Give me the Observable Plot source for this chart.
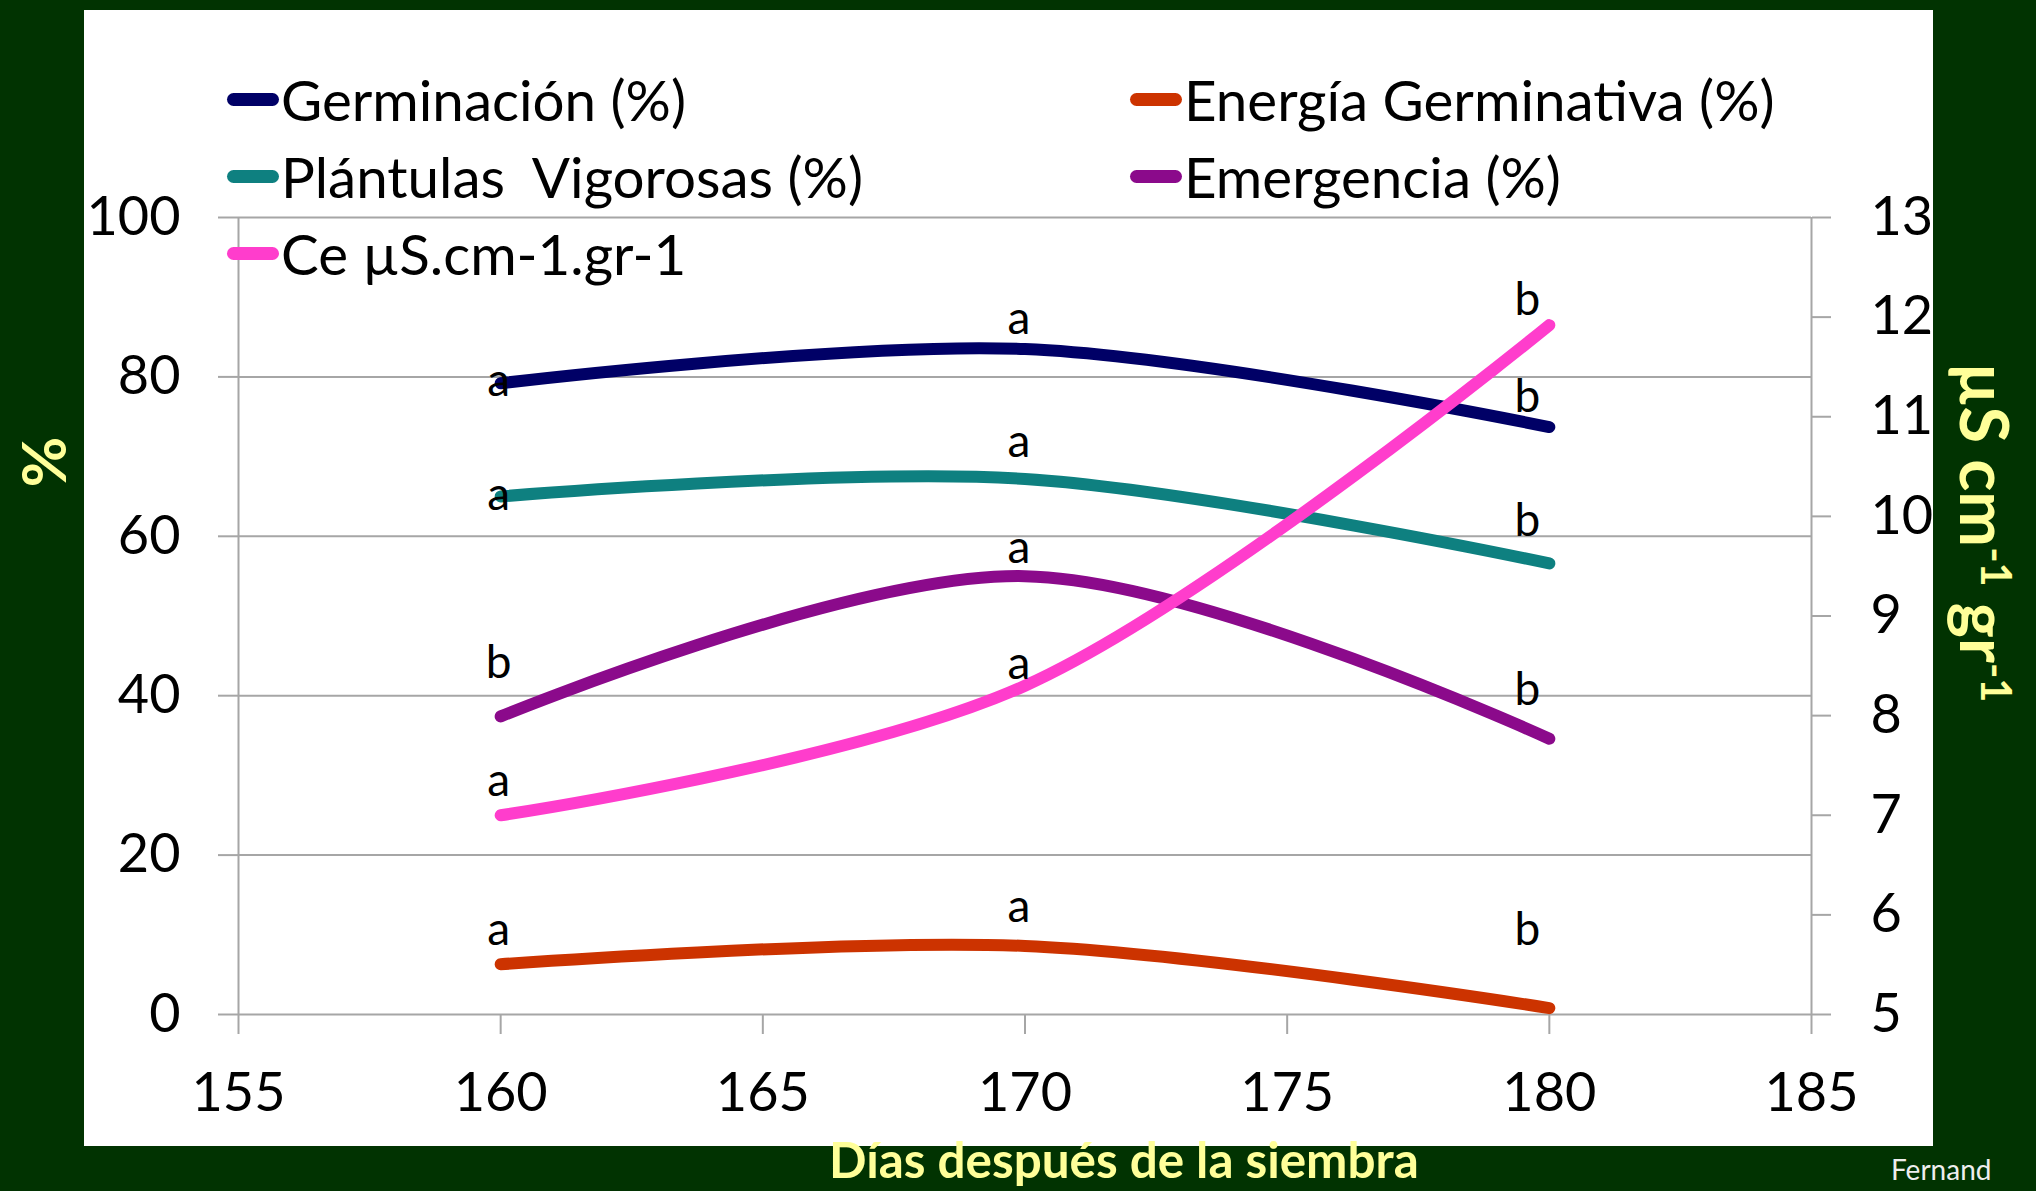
<!DOCTYPE html>
<html>
<head>
<meta charset="utf-8">
<script src="https://cdn.jsdelivr.net/npm/d3@7"></script>
<script src="https://cdn.jsdelivr.net/npm/@observablehq/plot@0.6"></script>
<style>
  html, body { margin: 0; padding: 0; background: #013301; }
  #wrap { position: relative; width: 2036px; height: 1191px; overflow: hidden; background: #013301; }
  #panel { position: absolute; left: 84px; top: 10px; width: 1849px; height: 1136px; background: #ffffff; }
  #chart { position: absolute; left: 0; top: 0; }
  .cal { font-family: Lato, "Open Sans", sans-serif; }
  .leg { position: absolute; display: flex; align-items: center; color: #000; white-space: pre; line-height: 1; }
  .sw { display: inline-block; width: 52px; height: 13px; border-radius: 7px; margin-right: 2px; }
  .ttl { position: absolute; font-weight: bold; color: #ffff99; white-space: nowrap; line-height: 1; }
  .ttl sup { font-size: 0.62em; position: relative; top: -0.5em; vertical-align: baseline; line-height: 0; }
</style>
</head>
<body>
<div id="wrap">
  <div id="panel"></div>
  <div id="chart"></div>
  <div id="legend"></div>
  <div class="ttl cal" id="ttlLeft" style="font-size:62px;">%</div>
  <div class="ttl cal" id="ttlRight">µS cm<sup>-1</sup> gr<sup>-1</sup></div>
  <div class="ttl cal" id="ttlBottom">Días después de la siembra</div>
  <div class="cal" id="credit" style="position:absolute;left:1891px;top:1154px;font-size:28px;color:#eeeeee;line-height:1.1;white-space:nowrap;">Fernand</div>
</div>
<script>
// ---- data ----
const days = [160, 170, 180];
const seriesNames = ["Germinación (%)", "Energía Germinativa (%)", "Plántulas  Vigorosas (%)", "Emergencia (%)", "Ce µS.cm-1.gr-1"];
const seriesColors = ["#000066", "#cc3300", "#0e8080", "#8b0a8b", "#ff3dcc"];
const germinacion = [79.2, 83.5, 73.7];
const energia = [6.3, 8.6, 0.8];
const plantulas = [65.0, 67.2, 56.6];
const emergencia = [37.4, 55.0, 34.6];
const ce = [7.0, 8.3, 11.92];           // right axis (µS cm-1 gr-1)
// significance letters and their anchor heights (left-axis units)
const germLetters = ["a", "a", "b"],  germLetterY = [79.5, 87.2, 77.5];
const enerLetters = ["a", "a", "b"],  enerLetterY = [10.6, 13.4, 10.6];
const plantLetters = ["a", "a", "b"], plantLetterY = [65.1, 71.8, 61.9];
const emerLetters = ["b", "a", "b"],  emerLetterY = [44.1, 58.5, 40.7];
const ceLetters = ["a", "a", "b"],    ceLetterY = [29.3, 44.0, 89.6];
const xTicks = [155, 160, 165, 170, 175, 180, 185];
const yTicksLeft = [0, 20, 40, 60, 80, 100];
const yTicksRight = [5, 6, 7, 8, 9, 10, 11, 12, 13];

// ---- build tables ----
const y2 = d3.scaleLinear([5, 13], [0, 100]);
const seriesValues = [germinacion, energia, plantulas, emergencia, ce.map(v => y2(v))];
const rows = [];
seriesNames.forEach((s, i) => days.forEach((d, j) => rows.push({series: s, day: d, value: seriesValues[i][j]})));
const letterSets = [[germLetters, germLetterY], [enerLetters, enerLetterY], [plantLetters, plantLetterY], [emerLetters, emerLetterY], [ceLetters, ceLetterY]];
const labels = [];
letterSets.forEach(([L, Y]) => days.forEach((d, j) => labels.push({day: d, letter: L[j], y: Y[j]})));

const CAL = "Lato, Open Sans, sans-serif";
const GRID = "#a6a6a6";

const plot = Plot.plot({
  width: 2036,
  height: 1191,
  marginLeft: 238,
  marginRight: 225,
  marginTop: 217,
  marginBottom: 177,
  style: {background: "transparent", overflow: "visible"},
  x: {domain: [155, 185]},
  y: {domain: [0, 100]},
  color: {domain: seriesNames, range: seriesColors},
  marks: [
    Plot.ruleY(yTicksLeft.filter(d => d > 0), {x1: 155, x2: 185, stroke: GRID, strokeWidth: 2}),
    Plot.axisY({ticks: yTicksLeft, tickSize: 20, tickPadding: 38, label: null, stroke: GRID, strokeWidth: 2, fill: "#000", fontSize: 54, fontFamily: CAL}),
    Plot.axisY(yTicksRight, {y: y2, anchor: "right", tickFormat: d => String(d), tickSize: 19, tickPadding: 40, label: null, stroke: GRID, strokeWidth: 2, fill: "#000", fontSize: 54, fontFamily: CAL}),
    Plot.axisX({ticks: xTicks, tickSize: 20, tickPadding: 38, label: null, stroke: GRID, strokeWidth: 2, fill: "#000", fontSize: 54, fontFamily: CAL}),
    Plot.ruleX([155], {y1: 0, y2: 100, stroke: GRID, strokeWidth: 2}),
    Plot.ruleX([185], {y1: 0, y2: 100, stroke: GRID, strokeWidth: 2}),
    Plot.ruleY([0], {x1: 155, x2: 185, stroke: GRID, strokeWidth: 2}),
    Plot.line(rows, {x: "day", y: "value", z: "series", stroke: "series", strokeWidth: 12, curve: "catmull-rom", strokeLinecap: "round", strokeLinejoin: "round"}),
    Plot.text(labels.filter(d => d.day === 160), {x: "day", y: "y", text: "letter", fontSize: 46, fontFamily: CAL, fill: "#000", dx: -2}),
    Plot.text(labels.filter(d => d.day === 170), {x: "day", y: "y", text: "letter", fontSize: 46, fontFamily: CAL, fill: "#000", dx: -6}),
    Plot.text(labels.filter(d => d.day === 180), {x: "day", y: "y", text: "letter", fontSize: 46, fontFamily: CAL, fill: "#000", dx: -22})
  ]
});
document.getElementById("chart").appendChild(plot);

// ---- helpers ----
function fitFont(el, targetW) {
  el.style.fontSize = "100px";
  const w = el.getBoundingClientRect().width;
  const fs = 100 * targetW / w;
  el.style.fontSize = fs + "px";
  return fs;
}
function place(id, cx, cy, rot) {
  const el = document.getElementById(id);
  const w = el.offsetWidth, h = el.offsetHeight;
  el.style.left = (cx - w / 2) + "px";
  el.style.top = (cy - h / 2) + "px";
  if (rot) el.style.transform = "rotate(" + rot + "deg)";
}

// ---- legend (two columns, row-major) ----
const legPos = [[227, 99], [1130, 99], [227, 176], [1130, 176], [227, 253]];
const legend = document.getElementById("legend");
const probe = document.createElement("span");
probe.className = "cal";
probe.style.cssText = "position:absolute;white-space:pre;visibility:hidden;";
probe.textContent = seriesNames[0];
document.body.appendChild(probe);
const legFs = Math.min(60, fitFont(probe, 405));
probe.remove();
seriesNames.forEach((s, i) => {
  const el = document.createElement("div");
  el.className = "leg cal";
  el.style.fontSize = legFs + "px";
  el.style.left = legPos[i][0] + "px";
  el.style.top = (legPos[i][1] - 30) + "px";
  el.style.height = "60px";
  const sw = document.createElement("span");
  sw.className = "sw";
  sw.style.background = seriesColors[i];
  el.appendChild(sw);
  el.appendChild(document.createTextNode(s));
  legend.appendChild(el);
});

// ---- titles ----
fitFont(document.getElementById("ttlRight"), 340);
fitFont(document.getElementById("ttlBottom"), 590);
place("ttlLeft", 42, 462, -90);
place("ttlRight", 1986, 532, 90);
place("ttlBottom", 1124, 1159, 0);
</script>
</body>
</html>
